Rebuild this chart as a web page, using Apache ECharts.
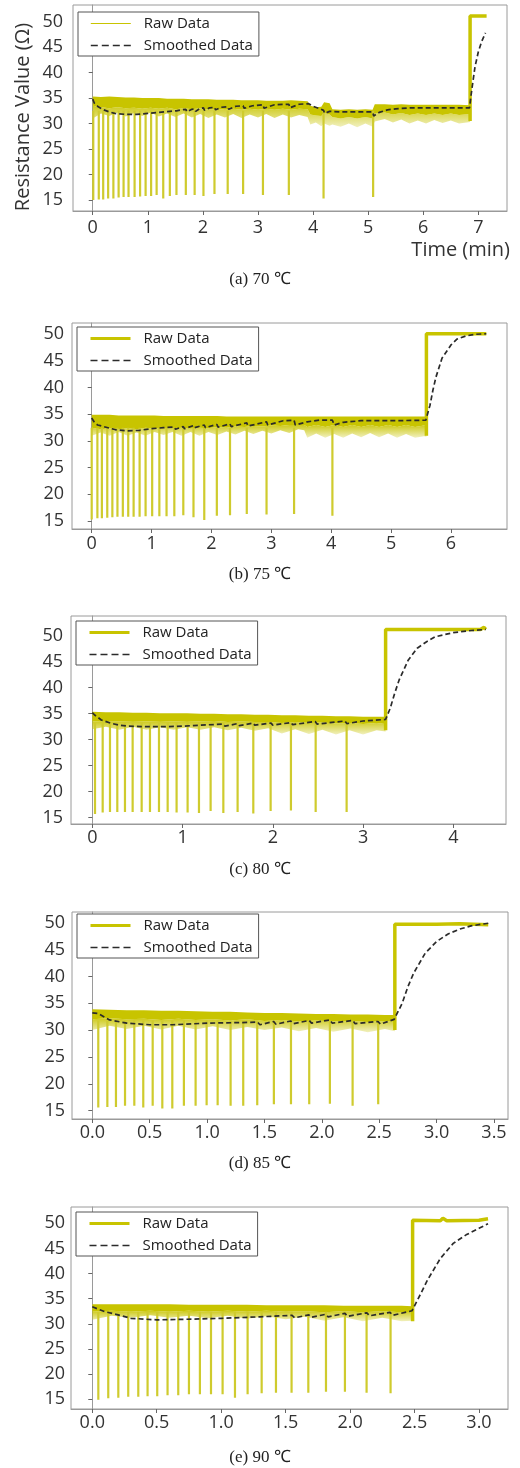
<!DOCTYPE html>
<html>
<head>
<meta charset="utf-8">
<script src="https://cdn.jsdelivr.net/npm/echarts@6/dist/echarts.min.js"></script>
<style>
html, body { margin: 0; background: #fff; }
#main { width: 520px; height: 1468px; }
</style>
</head>
<body>
<div id="main"></div>
<script>
var rawColor = '#c8c400';
var spikeColor = '#cfcb2e';
var captions = ['(a) 70 ℃', '(b) 75 ℃', '(c) 80 ℃', '(d) 85 ℃', '(e) 90 ℃'];
var yTicks = [15, 20, 25, 30, 35, 40, 45, 50];
var xTicksA = [0, 1, 2, 3, 4, 5, 6, 7];
var xTicksB = [0, 1, 2, 3, 4, 5, 6];
var xTicksC = [0, 1, 2, 3, 4];
var xTicksD = [0, 0.5, 1, 1.5, 2, 2.5, 3, 3.5];
var xTicksE = [0, 0.5, 1, 1.5, 2, 2.5, 3];

// (a) 70 ℃  — band rows: [time, top, dense bottom, lowest dips]
var spikeTimesA = [0.01, 0.11, 0.19, 0.28, 0.375, 0.47, 0.56, 0.65, 0.76, 0.86, 0.96, 1.06, 1.16, 1.28, 1.40, 1.52, 1.69, 1.85, 2.01, 2.21, 2.45, 2.73, 3.09, 3.56, 4.19, 5.09];
var spikeMinsA = [15.0, 15.1, 15.1, 15.3, 15.3, 15.5, 15.6, 15.6, 15.6, 15.7, 15.8, 15.8, 16.0, 15.3, 15.8, 16.0, 16.0, 16.0, 15.8, 16.2, 16.2, 16.2, 16.0, 16.0, 15.3, 15.6];
var bandA = [
    [0, 35.3, 33.5, 31.0], [0.15, 35.2, 33.2, 32.0], [0.3, 35.3, 33.0, 31.5], [0.45, 35.2, 33.2, 32.2],
    [0.6, 35.1, 33.0, 31.4], [0.75, 35.1, 33.1, 32.1], [0.9, 35.0, 32.9, 31.5], [1.05, 35.0, 33.1, 32.2],
    [1.2, 35.0, 32.9, 31.4], [1.35, 34.9, 33.1, 32.0], [1.5, 34.9, 32.8, 31.3], [1.65, 34.9, 33.0, 32.0],
    [1.8, 34.8, 32.8, 31.2], [1.95, 34.8, 33.0, 31.9], [2.1, 34.8, 32.7, 31.1], [2.25, 34.7, 32.9, 31.8],
    [2.4, 34.7, 32.7, 31.2], [2.55, 34.7, 32.9, 31.9], [2.7, 34.6, 32.7, 31.1], [2.85, 34.6, 32.9, 31.8],
    [3.0, 34.6, 32.7, 31.2], [3.15, 34.5, 32.9, 31.9], [3.3, 34.5, 32.7, 31.1], [3.45, 34.5, 32.9, 31.8],
    [3.6, 34.6, 32.7, 31.2], [3.75, 34.5, 32.9, 31.7], [3.9, 34.4, 32.8, 31.3], [3.95, 33.5, 31.8, 29.8],
    [4.05, 33.2, 31.6, 30.2], [4.15, 33.3, 31.5, 29.5], [4.2, 34.2, 32.2, 30.0], [4.3, 34.0, 31.8, 29.6],
    [4.35, 32.8, 31.3, 29.8], [4.5, 32.7, 31.0, 29.4], [4.65, 32.8, 31.3, 30.0], [4.8, 32.7, 31.0, 29.3],
    [4.95, 32.8, 31.3, 30.0], [5.08, 32.7, 31.0, 29.4], [5.12, 33.8, 32.0, 30.4], [5.3, 33.8, 32.2, 30.9],
    [5.45, 33.7, 31.8, 30.2], [5.6, 33.8, 32.1, 30.8], [5.75, 33.7, 31.7, 30.0], [5.9, 33.7, 32.0, 30.6],
    [6.05, 33.7, 31.7, 30.0], [6.2, 33.7, 32.0, 30.7], [6.35, 33.7, 31.7, 30.1], [6.5, 33.7, 32.0, 30.6],
    [6.65, 33.7, 31.7, 30.0], [6.85, 33.6, 31.9, 30.3]
];
var jumpA = [[6.85, 30.5], [6.85, 51.1], [7.15, 51.1]];
var smoothA = [[0, 34.8], [0.03, 34.0], [0.1, 33.3], [0.2, 32.7], [0.3, 32.3], [0.4, 32.0], [0.6, 31.8], [0.8, 31.8],
    [1.0, 32.0], [1.2, 32.2], [1.4, 32.4], [1.52, 32.5], [1.6, 32.7], [1.69, 32.8], [1.71, 32.3], [1.8, 32.8],
    [1.85, 32.9], [1.87, 32.4], [1.95, 33.0], [2.01, 33.1], [2.03, 32.6], [2.12, 33.1], [2.21, 33.2], [2.23, 32.7],
    [2.33, 33.2], [2.45, 33.3], [2.47, 32.8], [2.6, 33.4], [2.73, 33.5], [2.75, 33.0], [2.9, 33.5], [3.09, 33.7],
    [3.11, 33.0], [3.3, 33.7], [3.56, 33.8], [3.58, 33.1], [3.75, 33.8], [3.92, 33.9], [4.0, 33.4], [4.1, 33.0],
    [4.19, 32.6], [4.21, 32.0], [4.3, 32.4], [4.5, 32.3], [4.8, 32.3], [5.08, 32.3], [5.1, 31.5], [5.2, 32.2],
    [5.35, 32.7], [5.5, 32.9], [5.8, 33.1], [6.2, 33.1], [6.6, 33.1], [6.84, 33.1], [6.88, 36.6], [6.94, 41.2],
    [7.0, 44.1], [7.06, 46.1], [7.13, 47.8]];

// (b) 75 ℃
var spikeTimesB = [0.0, 0.095, 0.17, 0.26, 0.345, 0.43, 0.52, 0.61, 0.70, 0.80, 0.90, 1.01, 1.13, 1.25, 1.38, 1.53, 1.70, 1.88, 2.09, 2.31, 2.59, 2.92, 3.38, 4.02];
var spikeMinsB = [15.3, 15.5, 15.5, 15.6, 15.7, 15.8, 15.8, 15.8, 15.8, 15.8, 15.9, 15.9, 15.9, 15.9, 15.9, 16.1, 15.7, 15.2, 16.0, 16.1, 16.3, 16.2, 16.3, 16.0];
var bandB = [
    [0, 34.9, 32.5, 31.0], [0.15, 34.9, 32.2, 31.6], [0.3, 34.9, 32.4, 31.0], [0.45, 34.8, 32.2, 31.7],
    [0.6, 34.8, 32.4, 31.0], [0.75, 34.8, 32.2, 31.6], [0.9, 34.8, 32.5, 31.0], [1.05, 34.8, 32.3, 31.7],
    [1.2, 34.7, 32.5, 31.1], [1.35, 34.7, 32.3, 31.7], [1.5, 34.7, 32.5, 31.0], [1.65, 34.7, 32.3, 31.7],
    [1.8, 34.7, 32.5, 31.0], [1.95, 34.7, 32.4, 31.7], [2.1, 34.7, 32.6, 31.1], [2.25, 34.6, 32.5, 31.8],
    [2.4, 34.6, 32.7, 31.2], [2.55, 34.6, 32.6, 31.9], [2.7, 34.6, 32.8, 31.3], [2.85, 34.6, 32.7, 31.9],
    [3.0, 34.6, 32.9, 31.4], [3.15, 34.6, 32.8, 32.0], [3.3, 34.6, 33.0, 31.5], [3.45, 34.6, 33.0, 32.2],
    [3.55, 34.6, 33.0, 32.0], [3.6, 34.6, 32.6, 30.6], [3.75, 34.6, 33.0, 31.4], [3.9, 34.6, 32.6, 30.6],
    [4.05, 34.6, 33.0, 31.3], [4.2, 34.6, 32.6, 30.6], [4.35, 34.6, 33.0, 31.4], [4.5, 34.6, 32.6, 30.7],
    [4.65, 34.6, 33.0, 31.5], [4.8, 34.6, 32.6, 30.7], [4.95, 34.6, 33.0, 31.4], [5.1, 34.6, 32.6, 30.6],
    [5.25, 34.6, 33.0, 31.3], [5.4, 34.6, 32.6, 30.6], [5.55, 34.6, 32.9, 30.9], [5.59, 34.6, 32.8, 30.8]
];
var jumpB = [[5.59, 31.0], [5.59, 50.1], [6.59, 50.1]];
var smoothB = [[0, 34.3], [0.05, 33.4], [0.1, 33.0], [0.2, 32.7], [0.3, 32.4], [0.4, 32.1], [0.6, 31.9], [0.8, 32.0],
    [1.0, 32.3], [1.2, 32.5], [1.38, 32.6], [1.4, 32.2], [1.53, 32.7], [1.55, 32.3], [1.7, 32.9], [1.72, 32.5],
    [1.88, 33.0], [1.9, 32.5], [2.09, 33.1], [2.11, 32.6], [2.31, 33.2], [2.33, 32.7], [2.59, 33.4], [2.61, 32.8],
    [2.92, 33.6], [2.94, 33.0], [3.2, 33.8], [3.38, 33.9], [3.4, 33.0], [3.6, 33.6], [3.8, 33.9], [4.02, 33.9],
    [4.05, 33.0], [4.2, 33.5], [4.5, 33.8], [5.0, 33.8], [5.58, 33.9], [5.65, 36.7], [5.7, 39.6], [5.75, 42.0],
    [5.85, 45.5], [6.0, 48.0], [6.1, 49.1], [6.25, 49.7], [6.4, 50.0], [6.59, 50.1]];

// (c) 80 ℃
var spikeTimesC = [0.03, 0.115, 0.196, 0.277, 0.362, 0.447, 0.547, 0.639, 0.739, 0.835, 0.934, 1.056, 1.182, 1.311, 1.452, 1.610, 1.784, 1.976, 2.201, 2.475, 2.818];
var spikeMinsC = [15.7, 16.0, 16.1, 16.1, 16.1, 16.1, 16.1, 16.1, 16.1, 16.1, 16.0, 16.0, 15.9, 16.3, 15.9, 16.1, 15.8, 16.3, 16.4, 16.1, 16.1];
var bandC = [
    [0, 35.4, 33.5, 32.0], [0.15, 35.3, 33.6, 32.5], [0.3, 35.3, 33.5, 31.9], [0.45, 35.2, 33.6, 32.5],
    [0.6, 35.2, 33.5, 31.9], [0.75, 35.1, 33.6, 32.4], [0.9, 35.1, 33.5, 31.9], [1.05, 35.1, 33.6, 32.4],
    [1.2, 35.0, 33.5, 31.9], [1.35, 35.0, 33.6, 32.4], [1.5, 34.9, 33.4, 31.8], [1.65, 34.9, 33.5, 32.3],
    [1.8, 34.8, 33.4, 31.7], [1.95, 34.8, 33.4, 32.2], [2.1, 34.7, 33.2, 31.2], [2.25, 34.7, 33.4, 32.0],
    [2.4, 34.6, 33.2, 31.1], [2.55, 34.6, 33.3, 31.9], [2.7, 34.5, 33.1, 31.0], [2.85, 34.5, 33.2, 31.8],
    [3.0, 34.4, 33.0, 31.0], [3.15, 34.4, 33.2, 31.8], [3.25, 34.4, 33.0, 31.6]
];
var jumpC = [[3.25, 31.8], [3.25, 51.2], [4.3, 51.2], [4.34, 51.6], [4.36, 51.2]];
var smoothC = [[0, 35.2], [0.03, 34.7], [0.1, 33.8], [0.2, 33.2], [0.3, 32.8], [0.4, 32.6], [0.6, 32.5], [0.8, 32.5],
    [1.0, 32.6], [1.2, 32.8], [1.45, 33.0], [1.47, 32.6], [1.61, 33.1], [1.63, 32.7], [1.78, 33.2], [1.8, 32.8],
    [1.98, 33.2], [2.0, 32.8], [2.2, 33.3], [2.22, 32.9], [2.47, 33.5], [2.49, 33.0], [2.8, 33.6], [2.82, 33.1],
    [3.0, 33.6], [3.25, 33.9], [3.3, 36.0], [3.35, 38.9], [3.4, 41.5], [3.5, 45.3], [3.6, 47.6], [3.7, 48.8],
    [3.8, 49.8], [4.0, 50.6], [4.2, 51.0], [4.36, 51.2]];

// (d) 85 ℃
var spikeTimesD = [0.052, 0.131, 0.206, 0.285, 0.366, 0.444, 0.526, 0.610, 0.697, 0.798, 0.900, 0.996, 1.092, 1.205, 1.315, 1.437, 1.582, 1.731, 1.890, 2.070, 2.268, 2.491];
var spikeMinsD = [15.6, 15.7, 15.7, 15.9, 15.9, 15.6, 15.9, 15.4, 15.4, 15.9, 15.9, 16.0, 16.0, 15.9, 15.9, 16.0, 16.2, 16.2, 16.2, 16.3, 15.9, 16.2];
var bandD = [
    [0, 33.9, 32.0, 30.0], [0.15, 33.8, 32.2, 30.8], [0.3, 33.7, 32.0, 30.2], [0.45, 33.7, 32.1, 30.8],
    [0.6, 33.6, 31.9, 30.1], [0.75, 33.6, 32.1, 30.8], [0.9, 33.5, 31.9, 30.1], [1.05, 33.4, 32.0, 30.7],
    [1.2, 33.4, 31.8, 30.0], [1.35, 33.3, 32.0, 30.6], [1.5, 33.2, 31.7, 30.0], [1.65, 33.2, 31.9, 30.5],
    [1.8, 33.1, 31.6, 29.8], [1.95, 33.0, 31.8, 30.4], [2.1, 33.0, 31.6, 29.7], [2.25, 32.9, 31.7, 30.3],
    [2.4, 32.9, 31.5, 29.6], [2.55, 32.8, 31.7, 30.2], [2.636, 32.8, 31.5, 29.8]
];
var jumpD = [[2.636, 30.0], [2.636, 49.7], [3.0, 49.7], [3.2, 49.8], [3.45, 49.6]];
var smoothD = [[0, 33.2], [0.05, 33.1], [0.1, 32.5], [0.15, 31.9], [0.3, 31.3], [0.5, 31.0], [0.7, 31.0], [1.0, 31.3],
    [1.3, 31.4], [1.44, 31.5], [1.46, 31.0], [1.58, 31.6], [1.6, 31.1], [1.73, 31.7], [1.75, 31.2], [1.89, 31.8],
    [1.91, 31.3], [2.07, 31.9], [2.09, 31.3], [2.27, 31.8], [2.29, 31.2], [2.49, 31.6], [2.51, 31.1], [2.63, 32.0],
    [2.7, 35.0], [2.75, 38.1], [2.8, 40.6], [2.9, 44.3], [3.0, 46.5], [3.1, 47.9], [3.2, 48.8], [3.3, 49.4], [3.45, 49.9]];

// (e) 90 ℃
var spikeTimesE = [0.047, 0.124, 0.202, 0.279, 0.357, 0.429, 0.504, 0.584, 0.667, 0.750, 0.835, 0.921, 1.011, 1.107, 1.205, 1.314, 1.425, 1.546, 1.676, 1.813, 1.960, 2.128, 2.314];
var spikeMinsE = [14.9, 15.2, 15.3, 15.5, 15.5, 15.6, 15.6, 15.8, 15.8, 16.0, 16.0, 16.0, 16.0, 15.3, 16.0, 16.2, 16.3, 16.3, 16.3, 16.5, 16.5, 16.3, 16.2];
var bandE = [
    [0, 33.9, 32.4, 30.8], [0.15, 33.9, 32.6, 31.6], [0.3, 33.9, 32.4, 31.2], [0.45, 33.9, 32.6, 31.7],
    [0.6, 33.9, 32.4, 31.2], [0.75, 33.8, 32.6, 31.6], [0.9, 33.8, 32.4, 31.1], [1.05, 33.8, 32.6, 31.6],
    [1.2, 33.8, 32.4, 31.0], [1.35, 33.7, 32.6, 31.5], [1.5, 33.7, 32.4, 30.9], [1.65, 33.7, 32.5, 31.4],
    [1.8, 33.7, 32.3, 30.6], [1.95, 33.6, 32.5, 31.3], [2.1, 33.6, 32.3, 30.5], [2.25, 33.6, 32.5, 31.2],
    [2.4, 33.6, 32.3, 30.5], [2.485, 33.5, 32.4, 30.6]
];
var jumpE = [[2.485, 30.5], [2.485, 50.6], [2.7, 50.5], [2.72, 51.0], [2.75, 50.5], [3.0, 50.6], [3.07, 50.9]];
var smoothE = [[0, 33.4], [0.05, 32.9], [0.1, 32.4], [0.2, 31.8], [0.3, 31.1], [0.5, 30.8], [0.7, 30.9], [1.0, 31.1],
    [1.3, 31.4], [1.55, 31.7], [1.57, 31.2], [1.68, 31.8], [1.7, 31.3], [1.81, 31.9], [1.83, 31.4], [1.96, 32.1],
    [1.98, 31.5], [2.13, 32.2], [2.15, 31.6], [2.31, 32.3], [2.33, 31.7], [2.48, 32.6], [2.55, 36.1], [2.6, 38.7],
    [2.7, 43.0], [2.8, 46.0], [2.9, 47.7], [3.0, 49.0], [3.07, 49.9]];

var panels = [
    { band: bandA, times: spikeTimesA, mins: spikeMinsA, spikeTop: 32.5, jump: jumpA, smooth: smoothA, xTicks: xTicksA,
      grid: { left: 73, top: 5, width: 434, height: 206 }, x: [-0.358, 7.52], y: [12.84, 53.28], xMargin: 8, yMargin: 10, legendTop: 12, capTop: 271 },
    { band: bandB, times: spikeTimesB, mins: spikeMinsB, spikeTop: 32.5, jump: jumpB, smooth: smoothB, xTicks: xTicksB,
      grid: { left: 72, top: 323, width: 435, height: 206 }, x: [-0.329, 6.936], y: [13.5, 52.12], xMargin: 6, yMargin: 8, legendTop: 327, capTop: 566 },
    { band: bandC, times: spikeTimesC, mins: spikeMinsC, spikeTop: 33.3, jump: jumpC, smooth: smoothC, xTicks: xTicksC,
      grid: { left: 71, top: 616, width: 435, height: 208 }, x: [-0.236, 4.584], y: [13.79, 53.79], xMargin: 5, yMargin: 8, legendTop: 621, capTop: 861 },
    { band: bandD, times: spikeTimesD, mins: spikeMinsD, spikeTop: 31.8, jump: jumpD, smooth: smoothD, xTicks: xTicksD,
      grid: { left: 72, top: 912, width: 436, height: 207 }, x: [-0.177, 3.622], y: [13.45, 51.99], xMargin: 5, yMargin: 7, legendTop: 914, capTop: 1155 },
    { band: bandE, times: spikeTimesE, mins: spikeMinsE, spikeTop: 32.4, jump: jumpE, smooth: smoothE, xTicks: xTicksE,
      grid: { left: 71, top: 1207, width: 437, height: 202 }, x: [-0.165, 3.225], y: [13.07, 53.24], xMargin: 5, yMargin: 6, legendTop: 1212, capTop: 1449 }
];

var softFill = new echarts.graphic.LinearGradient(0, 0, 0, 1, [
    { offset: 0, color: 'rgba(200, 196, 0, 0.9)' },
    { offset: 1, color: 'rgba(200, 196, 0, 0.25)' }
]);

// draws the whole noise band of one panel as two polygons (dense part + fading dips)
function renderBand(params, api) {
    if (params.dataIndexInside !== 0) return null;
    var n = params.dataInsideLength;
    var top = [], core = [], low = [];
    for (var k = 0; k < n; k++) {
        var t = api.value(0, k);
        top.push(api.coord([t, api.value(1, k)]));
        core.push(api.coord([t, api.value(2, k)]));
        low.push(api.coord([t, api.value(3, k)]));
    }
    return {
        type: 'group',
        children: [
            { type: 'polygon', shape: { points: core.concat(low.slice().reverse()) }, style: { fill: softFill } },
            { type: 'polygon', shape: { points: top.concat(core.slice().reverse()) }, style: { fill: rawColor } }
        ]
    };
}

var labelStyle = { fontFamily: 'Open Sans', fontSize: 18, color: '#333' };
var noSymbol = { color: 'rgba(0,0,0,0)', borderWidth: 0 };
var grids = [], xAxes = [], yAxes = [], legends = [], titles = [], series = [];

panels.forEach(function (p, i) {
    grids.push({ left: p.grid.left, top: p.grid.top, width: p.grid.width, height: p.grid.height,
        show: true, borderColor: '#9a9a9a', borderWidth: 1 });

    xAxes.push({
        type: 'value', gridIndex: i, min: p.x[0], max: p.x[1],
        axisLine: { show: true, lineStyle: { color: '#9a9a9a' } },
        axisTick: { show: true, customValues: p.xTicks, length: 4, lineStyle: { color: '#666' } },
        axisLabel: Object.assign({ customValues: p.xTicks, margin: p.xMargin,
            formatter: function (v) { return i >= 3 ? v.toFixed(1) : String(v); } }, labelStyle),
        splitLine: { show: false }
    });
    yAxes.push({
        type: 'value', gridIndex: i, min: p.y[0], max: p.y[1],
        axisLine: { show: true, lineStyle: { color: '#9a9a9a' } },
        axisTick: { show: true, customValues: yTicks, length: 4, lineStyle: { color: '#666' } },
        axisLabel: Object.assign({ customValues: yTicks, margin: p.yMargin }, labelStyle),
        splitLine: { show: false }
    });

    legends.push({
        left: p.grid.left + 5, top: p.legendTop, orient: 'vertical',
        itemWidth: 40, itemHeight: 14, itemGap: 7, padding: [4, 6, 3, 12],
        borderColor: '#555', borderWidth: 1, backgroundColor: '#fff',
        textStyle: { fontFamily: 'Open Sans', fontSize: 15, color: '#222', padding: [0, 0, 0, 8] },
        data: [
            { name: 'Raw Data', itemStyle: noSymbol, lineStyle: { width: i === 0 ? 1 : 3, color: rawColor } },
            { name: 'Smoothed Data', itemStyle: noSymbol, lineStyle: { width: 1.6, type: [7, 4], color: '#2b2b2b' } }
        ]
    });

    titles.push({ text: captions[i], left: 'center', top: p.capTop, padding: 0,
        textStyle: { fontFamily: 'Liberation Serif', fontSize: 17, fontWeight: 'normal', color: '#222' } });

    series.push({ name: 'band', type: 'custom', xAxisIndex: i, yAxisIndex: i, silent: true,
        renderItem: renderBand, encode: { x: 0, y: [1, 2, 3] }, data: p.band, clip: true });

    // each spike is its own short stroke; '-' breaks the line between them
    var spikes = [];
    p.times.forEach(function (t, k) {
        spikes.push([t, p.spikeTop], [t, p.mins[k]], [t, '-']);
    });
    series.push({ name: 'Raw Data', type: 'line', xAxisIndex: i, yAxisIndex: i, symbol: 'none', connectNulls: false,
        data: spikes, lineStyle: { color: spikeColor, width: 2.2 }, itemStyle: { color: rawColor } });
    series.push({ name: 'Raw Data', type: 'line', xAxisIndex: i, yAxisIndex: i, symbol: 'none',
        data: p.jump, lineStyle: { color: rawColor, width: 3.5 }, itemStyle: { color: rawColor } });
    series.push({ name: 'Smoothed Data', type: 'line', xAxisIndex: i, yAxisIndex: i, symbol: 'none',
        data: p.smooth, lineStyle: { color: '#2b2b2b', width: 1.7, type: [5, 3] }, itemStyle: { color: '#2b2b2b' } });
});

titles.push({ text: 'Time (min)', right: 10, top: 240, padding: 0,
    textStyle: { fontFamily: 'Open Sans', fontSize: 20, fontWeight: 'normal', color: '#333' } });

var myChart = echarts.init(document.getElementById('main'));
var option = {
    animation: false,
    backgroundColor: '#fff',
    title: titles,
    legend: legends,
    grid: grids,
    xAxis: xAxes,
    yAxis: yAxes,
    // y-axis title of panel (a), centred a little below the middle of the axis as in the source
    graphic: [{
        type: 'text', x: 23, y: 117, rotation: Math.PI / 2,
        style: { text: 'Resistance Value (Ω)', fontFamily: 'Open Sans', fontSize: 20, fill: '#333',
            align: 'center', verticalAlign: 'middle' }
    }],
    series: series
};
myChart.setOption(option);
</script>
</body>
</html>
